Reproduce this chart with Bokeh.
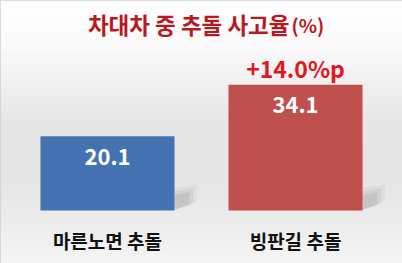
import numpy as np
from bokeh.plotting import figure
from bokeh.models import Range1d, Label
from bokeh.core.properties import value
from bokeh.embed import file_html
from bokeh.resources import INLINE

categories = ["마른노면 추돌", "빙판길 추돌"]
rates = [20.1, 34.1]
bar_labels = ["20.1", "34.1"]
bar_colors = ["#4573B1", "#C0504D"]
diff_label = "+14.0%p"
title_text = "차대차 중 추돌 사고율"
title_unit = "(%)"

FONT = value("Noto Sans CJK KR")
W, H = 402, 263
x0, x1 = -0.569, 1.569
y0, y1 = -14.36, 56.91
bw = 0.713
xs = list(range(len(categories)))

p = figure(width=W, height=H, x_range=Range1d(x0, x1), y_range=Range1d(y0, y1),
           output_backend="svg", toolbar_location=None, min_border=0)
p.axis.visible = False
p.grid.visible = False
p.outline_line_color = "#d0d0d0"
p.outline_line_width = 2
p.background_fill_color = "#f0f0f0"
p.border_fill_color = "#ffffff"

# vertical background gradient
stops_t = [0, 50, 120, 175, 220, 263]
stops_v = [255, 249, 231, 229, 236, 246]
t = np.arange(H)
vals = np.interp(t, stops_t, stops_v).astype(np.uint32)
img = np.zeros((H, 2), dtype=np.uint32)
view = img.view(dtype=np.uint8).reshape((H, 2, 4))
for r in range(H):
    v = vals[H - 1 - r]
    view[r, :, 0] = v
    view[r, :, 1] = v
    view[r, :, 2] = v
    view[r, :, 3] = 255
p.image_rgba(image=[img], x=x0, y=y0, dw=x1 - x0, dh=y1 - y0)

# soft shadows to the right of bars
for k, (a, h1, h2, d) in enumerate([(0.07, 7.0, 2.5, 0.12), (0.10, 6.0, 2.0, 0.10),
                                    (0.13, 5.0, 1.5, 0.08)]):
    pxs, pys = [], []
    for x in xs:
        r = x + bw / 2
        pxs.append([r, r + d, r + d, r])
        pys.append([0.2, h2, h1, h1 - 0.8])
    p.patches(pxs, pys, fill_color="#6e6e6e", fill_alpha=a, line_color=None)

p.vbar(x=xs, top=rates, width=bw, bottom=0, fill_color=bar_colors, line_color=None)

p.text(x=xs, y=rates, text=bar_labels, text_align="center", text_baseline="middle",
       y_offset=20, text_font=FONT, text_font_style="bold", text_font_size="22px",
       text_color="#ffffff")

p.text(x=xs, y=[0, 0], text=categories, text_align="center", text_baseline="middle",
       y_offset=30, text_font=FONT, text_font_style="bold", text_font_size="19px",
       text_color="#111111")

p.text(x=[xs[1]], y=[rates[1]], text=[diff_label], text_align="center",
       text_baseline="middle", y_offset=-17, text_font=FONT, text_font_style="bold",
       text_font_size="23px", text_color="#E3161E")

p.add_layout(Label(x=289, y=H - 23, x_units="screen", y_units="screen", text=title_text,
                   text_align="right", text_baseline="middle", text_font="Noto Sans CJK KR",
                   text_font_style="bold", text_font_size="22.5px", text_color="#B8181F"))
p.add_layout(Label(x=291, y=H - 24, x_units="screen", y_units="screen", text=title_unit,
                   text_align="left", text_baseline="middle", text_font="Noto Sans CJK KR",
                   text_font_style="bold", text_font_size="19px", text_color="#B8181F"))

open("out.html", "w").write(file_html(p, INLINE))
